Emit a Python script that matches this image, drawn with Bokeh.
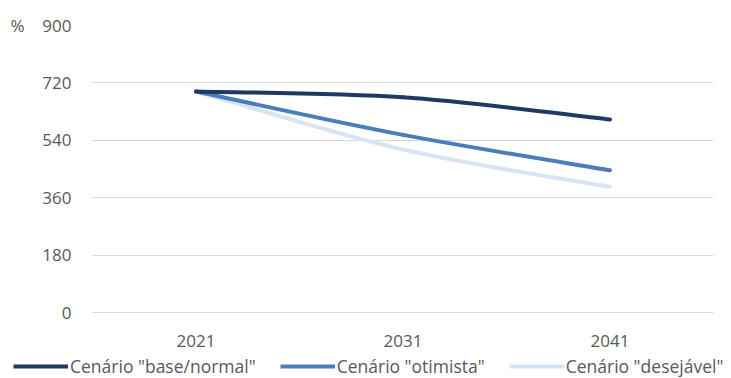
from bokeh.plotting import figure
from bokeh.models import Range1d, FixedTicker, Legend, LegendItem, LinearAxis, ColumnDataSource
from bokeh.layouts import column
from bokeh.embed import file_html
from bokeh.resources import INLINE

years = ["2021", "2031", "2041"]
base_normal = [693, 675, 605]
otimista = [693, 557, 446]
desejavel = [693, 511, 394]
y_ticks = [0, 180, 360, 540, 720, 900]
unit_label = "%"
series_names = ['Cenário "base/normal"', 'Cenário "otimista"', 'Cenário "desejável"']
colors = ["#203864", "#4a7ebb", "#dae3f3"]

FONT = "Open Sans"
TXT = "#595959"
FS = "17px"
LW = 4

p = figure(width=731, height=352, output_backend="svg", toolbar_location=None,
           x_range=Range1d(-0.5, 2.5), y_range=Range1d(0, 900),
           min_border_left=92, min_border_right=18, min_border_top=25, min_border_bottom=40)
p.outline_line_color = None
p.background_fill_color = "white"

xs = list(range(len(years)))


def smooth_segments(x, y):
    # Excel-style smoothing: cubic Bezier segments with control points from neighbours
    n = len(x)
    segs = dict(x0=[], y0=[], x1=[], y1=[], cx0=[], cy0=[], cx1=[], cy1=[])
    for i in range(n - 1):
        xm, ym = (x[i - 1], y[i - 1]) if i > 0 else (x[i], y[i])
        xp, yp = (x[i + 2], y[i + 2]) if i + 2 < n else (x[i + 1], y[i + 1])
        segs["x0"].append(x[i]); segs["y0"].append(y[i])
        segs["x1"].append(x[i + 1]); segs["y1"].append(y[i + 1])
        segs["cx0"].append(x[i] + (x[i + 1] - xm) / 6); segs["cy0"].append(y[i] + (y[i + 1] - ym) / 6)
        segs["cx1"].append(x[i + 1] - (xp - x[i]) / 6); segs["cy1"].append(y[i + 1] - (yp - y[i]) / 6)
    return segs


for vals, col in [(desejavel, colors[2]), (otimista, colors[1]), (base_normal, colors[0])]:
    src = ColumnDataSource(smooth_segments(xs, vals))
    p.bezier(x0="x0", y0="y0", x1="x1", y1="y1", cx0="cx0", cy0="cy0",
             cx1="cx1", cy1="cy1", source=src, line_color=col,
             line_width=LW, line_cap="round")

p.xaxis.ticker = FixedTicker(ticks=xs)
p.xaxis.major_label_overrides = {i: y for i, y in enumerate(years)}
p.xaxis.major_tick_line_color = None
p.xaxis.minor_tick_line_color = None
p.xaxis.axis_line_color = "#d9d9d9"
p.xaxis.major_label_text_font = FONT
p.xaxis.major_label_text_font_size = FS
p.xaxis.major_label_text_color = TXT
p.xaxis.major_label_standoff = 16

p.yaxis.ticker = FixedTicker(ticks=y_ticks)
p.yaxis.major_tick_line_color = None
p.yaxis.minor_tick_line_color = None
p.yaxis.axis_line_color = None
p.yaxis.major_label_text_font = FONT
p.yaxis.major_label_text_font_size = FS
p.yaxis.major_label_text_color = TXT
p.yaxis.major_label_standoff = 15

# "%" unit shown as a second left axis with a single tick at the top
unit_axis = LinearAxis(ticker=FixedTicker(ticks=[y_ticks[-1]]),
                       major_label_overrides={y_ticks[-1]: unit_label},
                       axis_line_color=None, major_tick_line_color=None,
                       minor_tick_line_color=None, major_label_standoff=9,
                       major_label_text_font=FONT, major_label_text_font_size=FS,
                       major_label_text_color=TXT)
p.add_layout(unit_axis, "left")

p.xgrid.grid_line_color = None
p.ygrid.grid_line_color = "#d9d9d9"
p.ygrid.grid_line_width = 1

# legend strip below the chart (its own full-width frame)
q = figure(width=731, height=26, output_backend="svg", toolbar_location=None,
           x_range=Range1d(0, 1), y_range=Range1d(0, 1),
           x_axis_location=None, y_axis_location=None,
           min_border_left=0, min_border_right=0, min_border_top=0, min_border_bottom=0)
q.outline_line_color = None
q.background_fill_color = "white"
q.xgrid.grid_line_color = None
q.ygrid.grid_line_color = None
items = []
for name, col in zip(series_names, colors):
    r = q.line(x=[-5, -4], y=[-5, -5], line_color=col, line_width=LW)
    items.append(LegendItem(label=name, renderers=[r]))
legend = Legend(items=items, orientation="horizontal", location=(13, 0),
                padding=0, margin=0, spacing=24, label_standoff=2,
                glyph_width=55, glyph_height=20,
                border_line_alpha=0, background_fill_alpha=0,
                label_text_font=FONT, label_text_font_size="17.5px", label_text_color=TXT)
q.add_layout(legend, "center")

layout = column(p, column(q, spacing=0), spacing=0)
open("out.html", "w").write(file_html(layout, INLINE))
